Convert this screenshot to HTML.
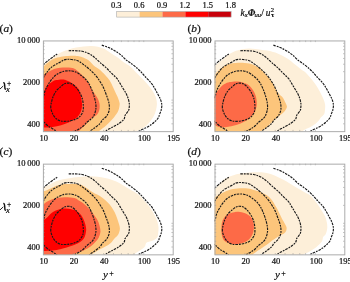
<!DOCTYPE html><html><head><meta charset="utf-8"><style>html,body{margin:0;padding:0;background:#fff;width:350px;height:282px;overflow:hidden}svg{display:block;will-change:transform}text{font-family:"Liberation Serif",serif;fill:#111;stroke:#111;stroke-width:0.22px}</style></head><body>
<svg width="350" height="282" viewBox="0 0 350 282">
<rect x="116.70" y="11.5" width="22.93" height="5.6" fill="#fdefd9"/>
<rect x="139.58" y="11.5" width="22.93" height="5.6" fill="#fcc57b"/>
<rect x="162.46" y="11.5" width="22.93" height="5.6" fill="#fd6a47"/>
<rect x="185.34" y="11.5" width="22.93" height="5.6" fill="#ff0000"/>
<rect x="208.22" y="11.5" width="22.93" height="5.6" fill="#c8000a"/>
<rect x="116.70" y="11.5" width="114.40" height="5.6" fill="none" stroke="#aaa" stroke-width="0.6"/>
<text x="116.20" y="7.6" font-size="8.5" text-anchor="middle">0.3</text>
<text x="139.08" y="7.6" font-size="8.5" text-anchor="middle">0.6</text>
<text x="161.96" y="7.6" font-size="8.5" text-anchor="middle">0.9</text>
<text x="184.84" y="7.6" font-size="8.5" text-anchor="middle">1.2</text>
<text x="207.72" y="7.6" font-size="8.5" text-anchor="middle">1.5</text>
<text x="230.60" y="7.6" font-size="8.5" text-anchor="middle">1.8</text>
<text x="240.5" y="16" font-size="9.5" font-style="italic" font-weight="normal">k</text>
<text x="244.8" y="17.3" font-size="6.6" font-style="italic" font-weight="normal">x</text>
<text x="247.7" y="16" font-size="9.5" font-style="italic" font-weight="bold">Φ</text>
<text x="254.5" y="17.3" font-size="6.6" font-style="italic" font-weight="normal">uu</text>
<text x="261.2" y="16" font-size="9.5" font-style="normal" font-weight="normal">/</text>
<text x="265.7" y="16" font-size="9.5" font-style="italic" font-weight="normal">u</text>
<text x="270.7" y="12.1" font-size="6.6" font-style="normal" font-weight="normal">2</text>
<text x="271.0" y="17.4" font-size="6.8" font-style="normal" font-weight="bold">τ</text>
<g transform="translate(43,40.5)">
<clipPath id="cpa"><rect x="0" y="0" width="130" height="91"/></clipPath>
<g clip-path="url(#cpa)">
<path d="M-2.00 26.50C-1.67 26.25 -1.00 25.92 0.00 25.00C1.00 24.08 2.33 22.42 4.00 21.00C5.67 19.58 8.33 17.63 10.00 16.50C11.67 15.37 12.50 15.02 14.00 14.20C15.50 13.38 16.95 12.50 19.00 11.60C21.05 10.70 23.97 9.57 26.30 8.80C28.63 8.03 30.62 7.48 33.00 7.00C35.38 6.52 38.10 6.17 40.60 5.90C43.10 5.63 45.60 5.33 48.00 5.40C50.40 5.47 52.83 5.82 55.00 6.30C57.17 6.78 59.25 7.52 61.00 8.30C62.75 9.08 63.88 9.97 65.50 11.00C67.12 12.03 68.88 13.30 70.70 14.50C72.52 15.70 74.68 16.95 76.40 18.20C78.12 19.45 79.28 20.78 81.00 22.00C82.72 23.22 84.80 23.97 86.70 25.50C88.60 27.03 90.23 29.03 92.40 31.20C94.57 33.37 97.30 35.95 99.70 38.50C102.10 41.05 104.73 43.73 106.80 46.50C108.87 49.27 110.92 52.18 112.10 55.10C113.28 58.02 114.03 60.75 113.90 64.00C113.77 67.25 112.78 71.35 111.30 74.60C109.82 77.85 107.22 81.13 105.00 83.50C102.78 85.87 100.07 87.55 98.00 88.80C95.93 90.05 93.77 90.30 92.60 91.00C91.43 91.70 91.27 92.67 91.00 93.00L91.00 96L-5 96L-5 26.50Z" fill="#fdefd9"/>
<path d="M-2.00 28.00C-1.67 27.75 -1.05 27.40 0.00 26.50C1.05 25.60 2.53 23.97 4.30 22.60C6.07 21.23 8.32 19.37 10.60 18.30C12.88 17.23 15.60 16.67 18.00 16.20C20.40 15.73 22.42 15.63 25.00 15.50C27.58 15.37 31.33 15.28 33.50 15.40C35.67 15.52 36.35 15.67 38.00 16.20C39.65 16.73 41.82 17.72 43.40 18.60C44.98 19.48 46.23 20.38 47.50 21.50C48.77 22.62 49.50 24.05 51.00 25.30C52.50 26.55 54.65 27.47 56.50 29.00C58.35 30.53 60.40 32.67 62.10 34.50C63.80 36.33 65.47 38.15 66.70 40.00C67.93 41.85 68.62 43.77 69.50 45.60C70.38 47.43 71.20 49.30 72.00 51.00C72.80 52.70 73.60 54.13 74.30 55.80C75.00 57.47 75.82 59.55 76.20 61.00C76.58 62.45 76.80 62.83 76.60 64.50C76.40 66.17 76.10 68.75 75.00 71.00C73.90 73.25 71.58 76.03 70.00 78.00C68.42 79.97 66.92 81.38 65.50 82.80C64.08 84.22 62.63 85.55 61.50 86.50C60.37 87.45 59.58 87.82 58.70 88.50C57.82 89.18 56.82 89.85 56.20 90.60C55.58 91.35 55.20 92.60 55.00 93.00L55.00 96L-5 96L-5 28.00Z" fill="#fcc57b"/>
<path d="M-2.00 35.50C-1.67 35.33 -1.17 35.13 0.00 34.50C1.17 33.87 3.17 32.68 5.00 31.70C6.83 30.72 9.00 29.33 11.00 28.60C13.00 27.87 15.00 27.57 17.00 27.30C19.00 27.03 21.17 27.00 23.00 27.00C24.83 27.00 26.48 27.03 28.00 27.30C29.52 27.57 30.27 27.40 32.10 28.60C33.93 29.80 37.13 32.73 39.00 34.50C40.87 36.27 42.13 37.82 43.30 39.20C44.47 40.58 45.13 41.25 46.00 42.80C46.87 44.35 47.58 46.80 48.50 48.50C49.42 50.20 50.50 51.50 51.50 53.00C52.50 54.50 53.67 55.80 54.50 57.50C55.33 59.20 56.18 61.30 56.50 63.20C56.82 65.10 56.73 67.18 56.40 68.90C56.07 70.62 55.32 72.32 54.50 73.50C53.68 74.68 52.42 75.33 51.50 76.00C50.58 76.67 49.83 76.87 49.00 77.50C48.17 78.13 47.30 79.00 46.50 79.80C45.70 80.60 45.23 81.23 44.20 82.30C43.17 83.37 41.58 84.92 40.30 86.20C39.02 87.48 37.30 88.87 36.50 90.00C35.70 91.13 35.67 92.50 35.50 93.00L35.50 96L-5 96L-5 35.50Z" fill="#fd6a47"/>
<path d="M-2.00 57.00C-1.67 56.67 -0.52 55.88 0.00 55.00C0.52 54.12 0.55 53.08 1.10 51.70C1.65 50.32 2.47 48.07 3.30 46.70C4.13 45.33 5.05 44.45 6.10 43.50C7.15 42.55 8.42 41.65 9.60 41.00C10.78 40.35 11.63 39.95 13.20 39.60C14.77 39.25 17.53 38.95 19.00 38.90C20.47 38.85 20.73 38.90 22.00 39.30C23.27 39.70 25.27 40.60 26.60 41.30C27.93 42.00 28.52 42.30 30.00 43.50C31.48 44.70 34.20 46.50 35.50 48.50C36.80 50.50 37.22 53.05 37.80 55.50C38.38 57.95 38.90 60.87 39.00 63.20C39.10 65.53 38.92 67.58 38.40 69.50C37.88 71.42 37.05 73.15 35.90 74.70C34.75 76.25 33.32 77.53 31.50 78.80C29.68 80.07 27.23 81.30 25.00 82.30C22.77 83.30 20.67 84.12 18.10 84.80C15.53 85.48 12.43 86.03 9.60 86.40C6.77 86.77 3.03 86.87 1.10 87.00C-0.83 87.13 -1.48 87.17 -2.00 87.20L-5 87.20L-5 57.00Z" fill="#ff0000"/>
<path d="M58.80 4.60C60.05 5.05 63.88 6.20 66.30 7.30C68.72 8.40 71.27 9.92 73.30 11.20C75.33 12.48 76.80 13.57 78.50 15.00C80.20 16.43 81.75 18.37 83.50 19.80C85.25 21.23 87.08 22.15 89.00 23.60C90.92 25.05 93.33 27.02 95.00 28.50C96.67 29.98 97.67 31.08 99.00 32.50C100.33 33.92 101.50 35.37 103.00 37.00C104.50 38.63 106.58 40.55 108.00 42.30C109.42 44.05 110.42 45.70 111.50 47.50C112.58 49.30 113.53 51.27 114.50 53.10C115.47 54.93 116.58 56.65 117.30 58.50C118.02 60.35 118.65 62.37 118.80 64.20C118.95 66.03 118.57 67.92 118.20 69.50C117.83 71.08 117.10 72.37 116.60 73.70C116.10 75.03 115.97 76.28 115.20 77.50C114.43 78.72 113.20 79.87 112.00 81.00C110.80 82.13 109.50 83.25 108.00 84.30C106.50 85.35 104.80 86.37 103.00 87.30C101.20 88.23 98.87 88.95 97.20 89.90C95.53 90.85 93.70 92.48 93.00 93.00" stroke="#1a1a1a" stroke-width="1.15" fill="none" stroke-dasharray="2.6 0.95 1.8 0.95"/>
<path d="M-2.00 26.50C-1.67 26.17 -1.08 25.50 0.00 24.50C1.08 23.50 2.68 21.95 4.50 20.50C6.32 19.05 9.28 16.95 10.90 15.80C12.52 14.65 13.65 13.97 14.20 13.60" stroke="#1a1a1a" stroke-width="1.15" fill="none" stroke-dasharray="2.6 0.95 1.8 0.95"/>
<path d="M25.70 10.20C26.75 10.20 29.75 10.10 32.00 10.20C34.25 10.30 37.12 10.42 39.20 10.80C41.28 11.18 42.85 11.80 44.50 12.50C46.15 13.20 47.68 14.05 49.10 15.00C50.52 15.95 51.60 16.97 53.00 18.20C54.40 19.43 55.83 20.92 57.50 22.40C59.17 23.88 61.17 25.38 63.00 27.10C64.83 28.82 66.65 30.85 68.50 32.70C70.35 34.55 72.77 36.65 74.10 38.20C75.43 39.75 75.55 40.45 76.50 42.00C77.45 43.55 78.75 45.75 79.80 47.50C80.85 49.25 81.93 50.83 82.80 52.50C83.67 54.17 84.42 55.75 85.00 57.50C85.58 59.25 86.10 61.42 86.30 63.00C86.50 64.58 86.33 65.83 86.20 67.00C86.07 68.17 86.20 68.67 85.50 70.00C84.80 71.33 82.73 73.58 82.00 75.00C81.27 76.42 82.05 77.20 81.10 78.50C80.15 79.80 78.28 81.42 76.30 82.80C74.32 84.18 71.40 85.57 69.20 86.80C67.00 88.03 64.47 89.17 63.10 90.20C61.73 91.23 61.35 92.53 61.00 93.00" stroke="#1a1a1a" stroke-width="1.15" fill="none" stroke-dasharray="2.6 0.95 1.8 0.95"/>
<path d="M-2.00 40.00C-1.67 39.60 -0.52 38.27 0.00 37.60C0.52 36.93 0.60 36.77 1.10 36.00C1.60 35.23 2.30 34.00 3.00 33.00C3.70 32.00 4.55 30.90 5.30 30.00C6.05 29.10 6.67 28.37 7.50 27.60C8.33 26.83 9.30 26.07 10.30 25.40C11.30 24.73 12.38 24.20 13.50 23.60C14.62 23.00 15.75 22.50 17.00 21.80C18.25 21.10 19.65 19.90 21.00 19.40C22.35 18.90 23.82 18.87 25.10 18.80C26.38 18.73 27.50 18.88 28.70 19.00C29.90 19.12 31.10 19.20 32.30 19.50C33.50 19.80 34.68 20.15 35.90 20.80C37.12 21.45 38.48 22.60 39.60 23.40C40.72 24.20 41.27 24.53 42.60 25.60C43.93 26.67 45.92 28.23 47.60 29.80C49.28 31.37 51.13 33.13 52.70 35.00C54.27 36.87 55.72 39.02 57.00 41.00C58.28 42.98 59.40 44.82 60.40 46.90C61.40 48.98 62.18 51.32 63.00 53.50C63.82 55.68 64.75 58.08 65.30 60.00C65.85 61.92 66.18 63.25 66.30 65.00C66.42 66.75 66.48 68.70 66.00 70.50C65.52 72.30 64.52 74.28 63.40 75.80C62.28 77.32 60.38 78.37 59.30 79.60C58.22 80.83 58.20 81.88 56.90 83.20C55.60 84.52 53.07 86.33 51.50 87.50C49.93 88.67 48.58 89.28 47.50 90.20C46.42 91.12 45.42 92.53 45.00 93.00" stroke="#1a1a1a" stroke-width="1.15" fill="none" stroke-dasharray="2.6 0.95 1.8 0.95"/>
<path d="M-1.00 58.00C-0.70 57.53 0.38 56.25 0.80 55.20C1.22 54.15 1.08 53.00 1.50 51.70C1.92 50.40 2.53 48.93 3.30 47.40C4.07 45.87 5.05 44.10 6.10 42.50C7.15 40.90 8.48 39.13 9.60 37.80C10.72 36.47 11.57 35.43 12.80 34.50C14.03 33.57 15.63 32.83 17.00 32.20C18.37 31.57 19.67 31.02 21.00 30.70C22.33 30.38 23.67 30.33 25.00 30.30C26.33 30.27 27.83 30.33 29.00 30.50C30.17 30.67 30.92 30.88 32.00 31.30C33.08 31.72 34.33 32.28 35.50 33.00C36.67 33.72 37.85 34.68 39.00 35.60C40.15 36.52 41.32 37.35 42.40 38.50C43.48 39.65 44.57 41.00 45.50 42.50C46.43 44.00 47.17 45.58 48.00 47.50C48.83 49.42 49.73 51.58 50.50 54.00C51.27 56.42 52.22 59.50 52.60 62.00C52.98 64.50 53.15 66.70 52.80 69.00C52.45 71.30 51.38 74.13 50.50 75.80C49.62 77.47 48.55 78.05 47.50 79.00C46.45 79.95 45.40 80.42 44.20 81.50C43.00 82.58 41.67 84.33 40.30 85.50C38.93 86.67 37.27 87.70 36.00 88.50C34.73 89.30 33.87 89.55 32.70 90.30C31.53 91.05 29.62 92.55 29.00 93.00" stroke="#1a1a1a" stroke-width="1.15" fill="none" stroke-dasharray="2.6 0.95 1.8 0.95"/>
<path d="M-2.00 79.80C-1.67 80.00 -0.52 80.67 0.00 81.00C0.52 81.33 0.30 81.08 1.10 81.80C1.90 82.52 3.47 84.28 4.80 85.30C6.13 86.32 7.72 87.02 9.10 87.90C10.48 88.78 12.12 89.75 13.10 90.60C14.08 91.45 14.68 92.60 15.00 93.00" stroke="#1a1a1a" stroke-width="1.15" fill="none" stroke-dasharray="2.6 0.95 1.8 0.95"/>
<path d="M7.80 67.40C7.60 65.63 7.90 64.30 8.30 62.40C8.70 60.50 9.35 58.03 10.20 56.00C11.05 53.97 12.10 51.88 13.40 50.20C14.70 48.52 16.65 47.05 18.00 45.90C19.35 44.75 20.33 43.85 21.50 43.30C22.67 42.75 23.75 42.57 25.00 42.60C26.25 42.63 27.58 42.68 29.00 43.50C30.42 44.32 32.08 45.83 33.50 47.50C34.92 49.17 36.50 51.58 37.50 53.50C38.50 55.42 39.03 57.08 39.50 59.00C39.97 60.92 40.22 63.08 40.30 65.00C40.38 66.92 40.38 68.92 40.00 70.50C39.62 72.08 38.83 73.33 38.00 74.50C37.17 75.67 36.33 76.63 35.00 77.50C33.67 78.37 32.00 79.15 30.00 79.70C28.00 80.25 25.17 80.70 23.00 80.80C20.83 80.90 18.75 80.85 17.00 80.30C15.25 79.75 13.75 78.72 12.50 77.50C11.25 76.28 10.28 74.68 9.50 73.00C8.72 71.32 8.00 69.17 7.80 67.40Z" stroke="#1a1a1a" stroke-width="1.15" fill="none" stroke-dasharray="2.6 0.95 1.8 0.95"/>
</g>
<path d="M30.34 0v1.6M30.34 91v-1.6M48.08 0v1.6M48.08 91v-1.6M60.67 0v1.6M60.67 91v-1.6M70.44 0v1.6M70.44 91v-1.6M78.42 0v1.6M78.42 91v-1.6M85.16 0v1.6M85.16 91v-1.6M91.01 0v1.6M91.01 91v-1.6M96.16 0v1.6M96.16 91v-1.6M100.77 0v1.6M100.77 91v-1.6M0 83.32h1.6M130 83.32h-1.6M0 77.54h1.6M130 77.54h-1.6M0 72.82h1.6M130 72.82h-1.6M0 68.83h1.6M130 68.83h-1.6M0 65.38h1.6M130 65.38h-1.6M0 62.33h1.6M130 62.33h-1.6M0 59.60h1.6M130 59.60h-1.6M0 41.66h1.6M130 41.66h-1.6M0 31.16h1.6M130 31.16h-1.6M0 23.72h1.6M130 23.72h-1.6M0 17.94h1.6M130 17.94h-1.6M0 13.22h1.6M130 13.22h-1.6M0 9.23h1.6M130 9.23h-1.6M0 5.78h1.6M130 5.78h-1.6M0 2.73h1.6M130 2.73h-1.6" stroke="#888" stroke-width="0.5" fill="none"/>
<rect x="0.4" y="0.45" width="129.8" height="90.7" fill="none" stroke="#ababab" stroke-width="1"/>
<text x="-3" y="2.70" font-size="8.5" text-anchor="end">10&#8201;000</text>
<text x="-3" y="44.36" font-size="8.5" text-anchor="end">2000</text>
<text x="-3" y="86.02" font-size="8.5" text-anchor="end">400</text>
<text x="0.70" y="100.60" font-size="8.5" text-anchor="middle">10</text>
<text x="31.04" y="100.60" font-size="8.5" text-anchor="middle">20</text>
<text x="61.37" y="100.60" font-size="8.5" text-anchor="middle">40</text>
<text x="101.47" y="100.60" font-size="8.5" text-anchor="middle">100</text>
<text x="130.70" y="100.60" font-size="8.5" text-anchor="middle">195</text>
</g>
<g transform="translate(214.6,40.5)">
<clipPath id="cpb"><rect x="0" y="0" width="130" height="91"/></clipPath>
<g clip-path="url(#cpb)">
<path d="M-2.00 27.00C-1.67 26.75 -1.33 26.58 0.00 25.50C1.33 24.42 3.88 22.25 6.00 20.50C8.12 18.75 10.43 16.58 12.70 15.00C14.97 13.42 17.12 12.03 19.60 11.00C22.08 9.97 25.08 9.30 27.60 8.80C30.12 8.30 32.47 8.03 34.70 8.00C36.93 7.97 38.78 8.37 41.00 8.60C43.22 8.83 45.80 9.12 48.00 9.40C50.20 9.68 51.70 9.70 54.20 10.30C56.70 10.90 60.05 11.80 63.00 13.00C65.95 14.20 68.93 15.63 71.90 17.50C74.87 19.37 78.45 22.37 80.80 24.20C83.15 26.03 84.30 27.20 86.00 28.50C87.70 29.80 89.42 30.58 91.00 32.00C92.58 33.42 94.05 35.28 95.50 37.00C96.95 38.72 98.37 40.47 99.70 42.30C101.03 44.13 102.42 46.20 103.50 48.00C104.58 49.80 105.32 51.35 106.20 53.10C107.08 54.85 108.08 56.68 108.80 58.50C109.52 60.32 110.25 62.08 110.50 64.00C110.75 65.92 110.47 68.38 110.30 70.00C110.13 71.62 110.18 72.53 109.50 73.70C108.82 74.87 107.12 75.92 106.20 77.00C105.28 78.08 105.43 78.77 104.00 80.20C102.57 81.63 100.12 83.98 97.60 85.60C95.08 87.22 90.83 88.67 88.90 89.90C86.97 91.13 86.48 92.48 86.00 93.00L86.00 96L-5 96L-5 27.00Z" fill="#fdefd9"/>
<path d="M-2.00 37.00C-1.67 36.67 -0.83 36.00 0.00 35.00C0.83 34.00 1.73 32.33 3.00 31.00C4.27 29.67 5.88 28.20 7.60 27.00C9.32 25.80 10.68 24.58 13.30 23.80C15.92 23.02 19.73 22.43 23.30 22.30C26.87 22.17 31.67 22.42 34.70 23.00C37.73 23.58 39.53 24.80 41.50 25.80C43.47 26.80 44.98 27.72 46.50 29.00C48.02 30.28 49.18 32.00 50.60 33.50C52.02 35.00 53.68 36.42 55.00 38.00C56.32 39.58 57.45 41.17 58.50 43.00C59.55 44.83 60.30 47.25 61.30 49.00C62.30 50.75 63.37 52.17 64.50 53.50C65.63 54.83 67.02 55.50 68.10 57.00C69.18 58.50 70.30 60.90 71.00 62.50C71.70 64.10 72.50 65.20 72.30 66.60C72.10 68.00 71.22 69.33 69.80 70.90C68.38 72.47 65.93 74.17 63.80 76.00C61.67 77.83 58.98 80.07 57.00 81.90C55.02 83.73 53.60 85.58 51.90 87.00C50.20 88.42 47.95 89.40 46.80 90.40C45.65 91.40 45.30 92.57 45.00 93.00L45.00 96L-5 96L-5 37.00Z" fill="#fcc57b"/>
<path d="M23.30 41.00C20.43 40.67 17.42 41.18 15.20 41.60C12.98 42.02 11.35 42.83 10.00 43.50C8.65 44.17 8.02 44.77 7.10 45.60C6.18 46.43 5.27 47.60 4.50 48.50C3.73 49.40 3.25 50.08 2.50 51.00C1.75 51.92 0.67 53.00 0.00 54.00C-0.67 55.00 -1.25 52.33 -1.50 57.00C-1.75 61.67 -1.75 77.42 -1.50 82.00C-1.25 86.58 -0.97 83.77 0.00 84.50C0.97 85.23 2.70 86.02 4.30 86.40C5.90 86.78 7.82 86.85 9.60 86.80C11.38 86.75 12.87 86.52 15.00 86.10C17.13 85.68 20.07 85.05 22.40 84.30C24.73 83.55 27.00 82.65 29.00 81.60C31.00 80.55 32.65 79.52 34.40 78.00C36.15 76.48 38.22 74.68 39.50 72.50C40.78 70.32 41.77 67.52 42.10 64.90C42.43 62.28 42.10 59.33 41.50 56.80C40.90 54.27 40.02 51.90 38.50 49.70C36.98 47.50 34.93 45.05 32.40 43.60C29.87 42.15 26.17 41.33 23.30 41.00Z" fill="#fd6a47"/>
<path d="M58.80 4.60C60.05 5.05 63.88 6.20 66.30 7.30C68.72 8.40 71.27 9.92 73.30 11.20C75.33 12.48 76.80 13.57 78.50 15.00C80.20 16.43 81.75 18.37 83.50 19.80C85.25 21.23 87.08 22.15 89.00 23.60C90.92 25.05 93.33 27.02 95.00 28.50C96.67 29.98 97.67 31.08 99.00 32.50C100.33 33.92 101.50 35.37 103.00 37.00C104.50 38.63 106.58 40.55 108.00 42.30C109.42 44.05 110.42 45.70 111.50 47.50C112.58 49.30 113.53 51.27 114.50 53.10C115.47 54.93 116.58 56.65 117.30 58.50C118.02 60.35 118.65 62.37 118.80 64.20C118.95 66.03 118.57 67.92 118.20 69.50C117.83 71.08 117.10 72.37 116.60 73.70C116.10 75.03 115.97 76.28 115.20 77.50C114.43 78.72 113.20 79.87 112.00 81.00C110.80 82.13 109.50 83.25 108.00 84.30C106.50 85.35 104.80 86.37 103.00 87.30C101.20 88.23 98.87 88.95 97.20 89.90C95.53 90.85 93.70 92.48 93.00 93.00" stroke="#1a1a1a" stroke-width="1.15" fill="none" stroke-dasharray="2.6 0.95 1.8 0.95"/>
<path d="M-2.00 26.50C-1.67 26.17 -1.08 25.50 0.00 24.50C1.08 23.50 2.68 21.95 4.50 20.50C6.32 19.05 9.28 16.95 10.90 15.80C12.52 14.65 13.65 13.97 14.20 13.60" stroke="#1a1a1a" stroke-width="1.15" fill="none" stroke-dasharray="2.6 0.95 1.8 0.95"/>
<path d="M25.70 10.20C26.75 10.20 29.75 10.10 32.00 10.20C34.25 10.30 37.12 10.42 39.20 10.80C41.28 11.18 42.85 11.80 44.50 12.50C46.15 13.20 47.68 14.05 49.10 15.00C50.52 15.95 51.60 16.97 53.00 18.20C54.40 19.43 55.83 20.92 57.50 22.40C59.17 23.88 61.17 25.38 63.00 27.10C64.83 28.82 66.65 30.85 68.50 32.70C70.35 34.55 72.77 36.65 74.10 38.20C75.43 39.75 75.55 40.45 76.50 42.00C77.45 43.55 78.75 45.75 79.80 47.50C80.85 49.25 81.93 50.83 82.80 52.50C83.67 54.17 84.42 55.75 85.00 57.50C85.58 59.25 86.10 61.42 86.30 63.00C86.50 64.58 86.33 65.83 86.20 67.00C86.07 68.17 86.20 68.67 85.50 70.00C84.80 71.33 82.73 73.58 82.00 75.00C81.27 76.42 82.05 77.20 81.10 78.50C80.15 79.80 78.28 81.42 76.30 82.80C74.32 84.18 71.40 85.57 69.20 86.80C67.00 88.03 64.47 89.17 63.10 90.20C61.73 91.23 61.35 92.53 61.00 93.00" stroke="#1a1a1a" stroke-width="1.15" fill="none" stroke-dasharray="2.6 0.95 1.8 0.95"/>
<path d="M-2.00 40.00C-1.67 39.60 -0.52 38.27 0.00 37.60C0.52 36.93 0.60 36.77 1.10 36.00C1.60 35.23 2.30 34.00 3.00 33.00C3.70 32.00 4.55 30.90 5.30 30.00C6.05 29.10 6.67 28.37 7.50 27.60C8.33 26.83 9.30 26.07 10.30 25.40C11.30 24.73 12.38 24.20 13.50 23.60C14.62 23.00 15.75 22.50 17.00 21.80C18.25 21.10 19.65 19.90 21.00 19.40C22.35 18.90 23.82 18.87 25.10 18.80C26.38 18.73 27.50 18.88 28.70 19.00C29.90 19.12 31.10 19.20 32.30 19.50C33.50 19.80 34.68 20.15 35.90 20.80C37.12 21.45 38.48 22.60 39.60 23.40C40.72 24.20 41.27 24.53 42.60 25.60C43.93 26.67 45.92 28.23 47.60 29.80C49.28 31.37 51.13 33.13 52.70 35.00C54.27 36.87 55.72 39.02 57.00 41.00C58.28 42.98 59.40 44.82 60.40 46.90C61.40 48.98 62.18 51.32 63.00 53.50C63.82 55.68 64.75 58.08 65.30 60.00C65.85 61.92 66.18 63.25 66.30 65.00C66.42 66.75 66.48 68.70 66.00 70.50C65.52 72.30 64.52 74.28 63.40 75.80C62.28 77.32 60.38 78.37 59.30 79.60C58.22 80.83 58.20 81.88 56.90 83.20C55.60 84.52 53.07 86.33 51.50 87.50C49.93 88.67 48.58 89.28 47.50 90.20C46.42 91.12 45.42 92.53 45.00 93.00" stroke="#1a1a1a" stroke-width="1.15" fill="none" stroke-dasharray="2.6 0.95 1.8 0.95"/>
<path d="M-1.00 58.00C-0.70 57.53 0.38 56.25 0.80 55.20C1.22 54.15 1.08 53.00 1.50 51.70C1.92 50.40 2.53 48.93 3.30 47.40C4.07 45.87 5.05 44.10 6.10 42.50C7.15 40.90 8.48 39.13 9.60 37.80C10.72 36.47 11.57 35.43 12.80 34.50C14.03 33.57 15.63 32.83 17.00 32.20C18.37 31.57 19.67 31.02 21.00 30.70C22.33 30.38 23.67 30.33 25.00 30.30C26.33 30.27 27.83 30.33 29.00 30.50C30.17 30.67 30.92 30.88 32.00 31.30C33.08 31.72 34.33 32.28 35.50 33.00C36.67 33.72 37.85 34.68 39.00 35.60C40.15 36.52 41.32 37.35 42.40 38.50C43.48 39.65 44.57 41.00 45.50 42.50C46.43 44.00 47.17 45.58 48.00 47.50C48.83 49.42 49.73 51.58 50.50 54.00C51.27 56.42 52.22 59.50 52.60 62.00C52.98 64.50 53.15 66.70 52.80 69.00C52.45 71.30 51.38 74.13 50.50 75.80C49.62 77.47 48.55 78.05 47.50 79.00C46.45 79.95 45.40 80.42 44.20 81.50C43.00 82.58 41.67 84.33 40.30 85.50C38.93 86.67 37.27 87.70 36.00 88.50C34.73 89.30 33.87 89.55 32.70 90.30C31.53 91.05 29.62 92.55 29.00 93.00" stroke="#1a1a1a" stroke-width="1.15" fill="none" stroke-dasharray="2.6 0.95 1.8 0.95"/>
<path d="M-2.00 79.80C-1.67 80.00 -0.52 80.67 0.00 81.00C0.52 81.33 0.30 81.08 1.10 81.80C1.90 82.52 3.47 84.28 4.80 85.30C6.13 86.32 7.72 87.02 9.10 87.90C10.48 88.78 12.12 89.75 13.10 90.60C14.08 91.45 14.68 92.60 15.00 93.00" stroke="#1a1a1a" stroke-width="1.15" fill="none" stroke-dasharray="2.6 0.95 1.8 0.95"/>
<path d="M7.80 67.40C7.60 65.63 7.90 64.30 8.30 62.40C8.70 60.50 9.35 58.03 10.20 56.00C11.05 53.97 12.10 51.88 13.40 50.20C14.70 48.52 16.65 47.05 18.00 45.90C19.35 44.75 20.33 43.85 21.50 43.30C22.67 42.75 23.75 42.57 25.00 42.60C26.25 42.63 27.58 42.68 29.00 43.50C30.42 44.32 32.08 45.83 33.50 47.50C34.92 49.17 36.50 51.58 37.50 53.50C38.50 55.42 39.03 57.08 39.50 59.00C39.97 60.92 40.22 63.08 40.30 65.00C40.38 66.92 40.38 68.92 40.00 70.50C39.62 72.08 38.83 73.33 38.00 74.50C37.17 75.67 36.33 76.63 35.00 77.50C33.67 78.37 32.00 79.15 30.00 79.70C28.00 80.25 25.17 80.70 23.00 80.80C20.83 80.90 18.75 80.85 17.00 80.30C15.25 79.75 13.75 78.72 12.50 77.50C11.25 76.28 10.28 74.68 9.50 73.00C8.72 71.32 8.00 69.17 7.80 67.40Z" stroke="#1a1a1a" stroke-width="1.15" fill="none" stroke-dasharray="2.6 0.95 1.8 0.95"/>
</g>
<path d="M30.34 0v1.6M30.34 91v-1.6M48.08 0v1.6M48.08 91v-1.6M60.67 0v1.6M60.67 91v-1.6M70.44 0v1.6M70.44 91v-1.6M78.42 0v1.6M78.42 91v-1.6M85.16 0v1.6M85.16 91v-1.6M91.01 0v1.6M91.01 91v-1.6M96.16 0v1.6M96.16 91v-1.6M100.77 0v1.6M100.77 91v-1.6M0 83.32h1.6M130 83.32h-1.6M0 77.54h1.6M130 77.54h-1.6M0 72.82h1.6M130 72.82h-1.6M0 68.83h1.6M130 68.83h-1.6M0 65.38h1.6M130 65.38h-1.6M0 62.33h1.6M130 62.33h-1.6M0 59.60h1.6M130 59.60h-1.6M0 41.66h1.6M130 41.66h-1.6M0 31.16h1.6M130 31.16h-1.6M0 23.72h1.6M130 23.72h-1.6M0 17.94h1.6M130 17.94h-1.6M0 13.22h1.6M130 13.22h-1.6M0 9.23h1.6M130 9.23h-1.6M0 5.78h1.6M130 5.78h-1.6M0 2.73h1.6M130 2.73h-1.6" stroke="#888" stroke-width="0.5" fill="none"/>
<rect x="0.4" y="0.45" width="129.8" height="90.7" fill="none" stroke="#ababab" stroke-width="1"/>
<text x="-3" y="2.70" font-size="8.5" text-anchor="end">10&#8201;000</text>
<text x="-3" y="44.36" font-size="8.5" text-anchor="end">2000</text>
<text x="-3" y="86.02" font-size="8.5" text-anchor="end">400</text>
<text x="0.70" y="100.60" font-size="8.5" text-anchor="middle">10</text>
<text x="31.04" y="100.60" font-size="8.5" text-anchor="middle">20</text>
<text x="61.37" y="100.60" font-size="8.5" text-anchor="middle">40</text>
<text x="101.47" y="100.60" font-size="8.5" text-anchor="middle">100</text>
<text x="130.70" y="100.60" font-size="8.5" text-anchor="middle">195</text>
</g>
<g transform="translate(43,163.7)">
<clipPath id="cpc"><rect x="0" y="0" width="130" height="91"/></clipPath>
<g clip-path="url(#cpc)">
<path d="M-2.00 25.50C-1.67 25.25 -1.00 24.58 0.00 24.00C1.00 23.42 2.67 22.67 4.00 22.00C5.33 21.33 6.93 20.55 8.00 20.00C9.07 19.45 9.07 19.28 10.40 18.70C11.73 18.12 14.08 17.07 16.00 16.50C17.92 15.93 19.90 15.68 21.90 15.30C23.90 14.92 26.10 14.48 28.00 14.20C29.90 13.92 31.47 13.80 33.30 13.60C35.13 13.40 36.95 13.18 39.00 13.00C41.05 12.82 43.55 12.53 45.60 12.50C47.65 12.47 49.17 12.63 51.30 12.80C53.43 12.97 56.02 13.13 58.40 13.50C60.78 13.87 63.22 14.32 65.60 15.00C67.98 15.68 70.32 16.52 72.70 17.60C75.08 18.68 77.52 20.13 79.90 21.50C82.28 22.87 84.98 24.63 87.00 25.80C89.02 26.97 90.48 27.55 92.00 28.50C93.52 29.45 94.60 30.17 96.10 31.50C97.60 32.83 99.38 34.73 101.00 36.50C102.62 38.27 104.38 40.27 105.80 42.10C107.22 43.93 108.42 45.70 109.50 47.50C110.58 49.30 111.47 51.07 112.30 52.90C113.13 54.73 113.97 56.68 114.50 58.50C115.03 60.32 115.38 62.05 115.50 63.80C115.62 65.55 115.40 67.38 115.20 69.00C115.00 70.62 115.15 72.20 114.30 73.50C113.45 74.80 111.88 75.90 110.10 76.80C108.32 77.70 105.03 77.83 103.60 78.90C102.17 79.97 102.93 81.68 101.50 83.20C100.07 84.72 96.80 86.73 95.00 88.00C93.20 89.27 91.70 89.97 90.70 90.80C89.70 91.63 89.28 92.63 89.00 93.00L89.00 96L-5 96L-5 25.50Z" fill="#fdefd9"/>
<path d="M-2.00 29.00C-1.67 28.75 -0.88 27.88 0.00 27.50C0.88 27.12 2.05 27.13 3.30 26.70C4.55 26.27 6.08 25.55 7.50 24.90C8.92 24.25 10.38 23.38 11.80 22.80C13.22 22.22 14.80 21.75 16.00 21.40C17.20 21.05 18.00 20.87 19.00 20.70C20.00 20.53 20.17 20.47 22.00 20.40C23.83 20.33 27.50 20.22 30.00 20.30C32.50 20.38 34.88 20.32 37.00 20.90C39.12 21.48 41.03 22.83 42.70 23.80C44.37 24.77 45.62 25.80 47.00 26.70C48.38 27.60 49.42 28.32 51.00 29.20C52.58 30.08 54.65 30.83 56.50 32.00C58.35 33.17 60.40 34.73 62.10 36.20C63.80 37.67 65.32 39.12 66.70 40.80C68.08 42.48 69.35 44.52 70.40 46.30C71.45 48.08 72.22 49.62 73.00 51.50C73.78 53.38 74.45 55.38 75.10 57.60C75.75 59.82 76.90 62.55 76.90 64.80C76.90 67.05 76.00 69.43 75.10 71.10C74.20 72.77 72.72 73.43 71.50 74.80C70.28 76.17 69.32 77.95 67.80 79.30C66.28 80.65 64.20 81.85 62.40 82.90C60.60 83.95 58.73 84.67 57.00 85.60C55.27 86.53 53.50 87.60 52.00 88.50C50.50 89.40 49.00 90.25 48.00 91.00C47.00 91.75 46.33 92.67 46.00 93.00L46.00 96L-5 96L-5 29.00Z" fill="#fcc57b"/>
<path d="M-2.00 42.50C-1.67 42.25 -1.05 41.78 0.00 41.00C1.05 40.22 2.40 38.80 4.30 37.80C6.20 36.80 8.55 35.70 11.40 35.00C14.25 34.30 18.07 33.70 21.40 33.60C24.73 33.50 29.13 33.95 31.40 34.40C33.67 34.85 33.68 35.57 35.00 36.30C36.32 37.03 37.88 37.78 39.30 38.80C40.72 39.82 42.20 41.13 43.50 42.40C44.80 43.67 45.93 45.05 47.10 46.40C48.27 47.75 49.23 48.78 50.50 50.50C51.77 52.22 53.65 54.60 54.70 56.70C55.75 58.80 56.35 61.15 56.80 63.10C57.25 65.05 57.57 66.63 57.40 68.40C57.23 70.17 56.60 72.10 55.80 73.70C55.00 75.30 53.92 76.53 52.60 78.00C51.28 79.47 49.83 81.08 47.90 82.50C45.97 83.92 43.15 85.43 41.00 86.50C38.85 87.57 36.83 88.15 35.00 88.90C33.17 89.65 31.17 90.32 30.00 91.00C28.83 91.68 28.33 92.67 28.00 93.00L28.00 96L-5 96L-5 42.50Z" fill="#fd6a47"/>
<path d="M-2.00 58.00C-1.67 57.75 -0.82 57.02 0.00 56.50C0.82 55.98 1.47 56.12 2.90 54.90C4.33 53.68 6.70 50.63 8.60 49.20C10.50 47.77 12.17 47.02 14.30 46.30C16.43 45.58 19.02 45.02 21.40 44.90C23.78 44.78 26.45 45.13 28.60 45.60C30.75 46.07 32.63 46.63 34.30 47.70C35.97 48.77 37.42 50.33 38.60 52.00C39.78 53.67 40.68 55.87 41.40 57.70C42.12 59.53 42.63 61.28 42.90 63.00C43.17 64.72 43.32 66.08 43.00 68.00C42.68 69.92 42.17 72.67 41.00 74.50C39.83 76.33 38.00 77.75 36.00 79.00C34.00 80.25 31.98 80.97 29.00 82.00C26.02 83.03 21.33 84.40 18.10 85.20C14.87 86.00 12.43 86.45 9.60 86.80C6.77 87.15 3.03 87.18 1.10 87.30C-0.83 87.42 -1.48 87.47 -2.00 87.50L-5 87.50L-5 58.00Z" fill="#ff0000"/>
<path d="M58.80 4.60C60.05 5.05 63.88 6.20 66.30 7.30C68.72 8.40 71.27 9.92 73.30 11.20C75.33 12.48 76.80 13.57 78.50 15.00C80.20 16.43 81.75 18.37 83.50 19.80C85.25 21.23 87.08 22.15 89.00 23.60C90.92 25.05 93.33 27.02 95.00 28.50C96.67 29.98 97.67 31.08 99.00 32.50C100.33 33.92 101.50 35.37 103.00 37.00C104.50 38.63 106.58 40.55 108.00 42.30C109.42 44.05 110.42 45.70 111.50 47.50C112.58 49.30 113.53 51.27 114.50 53.10C115.47 54.93 116.58 56.65 117.30 58.50C118.02 60.35 118.65 62.37 118.80 64.20C118.95 66.03 118.57 67.92 118.20 69.50C117.83 71.08 117.10 72.37 116.60 73.70C116.10 75.03 115.97 76.28 115.20 77.50C114.43 78.72 113.20 79.87 112.00 81.00C110.80 82.13 109.50 83.25 108.00 84.30C106.50 85.35 104.80 86.37 103.00 87.30C101.20 88.23 98.87 88.95 97.20 89.90C95.53 90.85 93.70 92.48 93.00 93.00" stroke="#1a1a1a" stroke-width="1.15" fill="none" stroke-dasharray="2.6 0.95 1.8 0.95"/>
<path d="M-2.00 26.50C-1.67 26.17 -1.08 25.50 0.00 24.50C1.08 23.50 2.68 21.95 4.50 20.50C6.32 19.05 9.28 16.95 10.90 15.80C12.52 14.65 13.65 13.97 14.20 13.60" stroke="#1a1a1a" stroke-width="1.15" fill="none" stroke-dasharray="2.6 0.95 1.8 0.95"/>
<path d="M25.70 10.20C26.75 10.20 29.75 10.10 32.00 10.20C34.25 10.30 37.12 10.42 39.20 10.80C41.28 11.18 42.85 11.80 44.50 12.50C46.15 13.20 47.68 14.05 49.10 15.00C50.52 15.95 51.60 16.97 53.00 18.20C54.40 19.43 55.83 20.92 57.50 22.40C59.17 23.88 61.17 25.38 63.00 27.10C64.83 28.82 66.65 30.85 68.50 32.70C70.35 34.55 72.77 36.65 74.10 38.20C75.43 39.75 75.55 40.45 76.50 42.00C77.45 43.55 78.75 45.75 79.80 47.50C80.85 49.25 81.93 50.83 82.80 52.50C83.67 54.17 84.42 55.75 85.00 57.50C85.58 59.25 86.10 61.42 86.30 63.00C86.50 64.58 86.33 65.83 86.20 67.00C86.07 68.17 86.20 68.67 85.50 70.00C84.80 71.33 82.73 73.58 82.00 75.00C81.27 76.42 82.05 77.20 81.10 78.50C80.15 79.80 78.28 81.42 76.30 82.80C74.32 84.18 71.40 85.57 69.20 86.80C67.00 88.03 64.47 89.17 63.10 90.20C61.73 91.23 61.35 92.53 61.00 93.00" stroke="#1a1a1a" stroke-width="1.15" fill="none" stroke-dasharray="2.6 0.95 1.8 0.95"/>
<path d="M-2.00 40.00C-1.67 39.60 -0.52 38.27 0.00 37.60C0.52 36.93 0.60 36.77 1.10 36.00C1.60 35.23 2.30 34.00 3.00 33.00C3.70 32.00 4.55 30.90 5.30 30.00C6.05 29.10 6.67 28.37 7.50 27.60C8.33 26.83 9.30 26.07 10.30 25.40C11.30 24.73 12.38 24.20 13.50 23.60C14.62 23.00 15.75 22.50 17.00 21.80C18.25 21.10 19.65 19.90 21.00 19.40C22.35 18.90 23.82 18.87 25.10 18.80C26.38 18.73 27.50 18.88 28.70 19.00C29.90 19.12 31.10 19.20 32.30 19.50C33.50 19.80 34.68 20.15 35.90 20.80C37.12 21.45 38.48 22.60 39.60 23.40C40.72 24.20 41.27 24.53 42.60 25.60C43.93 26.67 45.92 28.23 47.60 29.80C49.28 31.37 51.13 33.13 52.70 35.00C54.27 36.87 55.72 39.02 57.00 41.00C58.28 42.98 59.40 44.82 60.40 46.90C61.40 48.98 62.18 51.32 63.00 53.50C63.82 55.68 64.75 58.08 65.30 60.00C65.85 61.92 66.18 63.25 66.30 65.00C66.42 66.75 66.48 68.70 66.00 70.50C65.52 72.30 64.52 74.28 63.40 75.80C62.28 77.32 60.38 78.37 59.30 79.60C58.22 80.83 58.20 81.88 56.90 83.20C55.60 84.52 53.07 86.33 51.50 87.50C49.93 88.67 48.58 89.28 47.50 90.20C46.42 91.12 45.42 92.53 45.00 93.00" stroke="#1a1a1a" stroke-width="1.15" fill="none" stroke-dasharray="2.6 0.95 1.8 0.95"/>
<path d="M-1.00 58.00C-0.70 57.53 0.38 56.25 0.80 55.20C1.22 54.15 1.08 53.00 1.50 51.70C1.92 50.40 2.53 48.93 3.30 47.40C4.07 45.87 5.05 44.10 6.10 42.50C7.15 40.90 8.48 39.13 9.60 37.80C10.72 36.47 11.57 35.43 12.80 34.50C14.03 33.57 15.63 32.83 17.00 32.20C18.37 31.57 19.67 31.02 21.00 30.70C22.33 30.38 23.67 30.33 25.00 30.30C26.33 30.27 27.83 30.33 29.00 30.50C30.17 30.67 30.92 30.88 32.00 31.30C33.08 31.72 34.33 32.28 35.50 33.00C36.67 33.72 37.85 34.68 39.00 35.60C40.15 36.52 41.32 37.35 42.40 38.50C43.48 39.65 44.57 41.00 45.50 42.50C46.43 44.00 47.17 45.58 48.00 47.50C48.83 49.42 49.73 51.58 50.50 54.00C51.27 56.42 52.22 59.50 52.60 62.00C52.98 64.50 53.15 66.70 52.80 69.00C52.45 71.30 51.38 74.13 50.50 75.80C49.62 77.47 48.55 78.05 47.50 79.00C46.45 79.95 45.40 80.42 44.20 81.50C43.00 82.58 41.67 84.33 40.30 85.50C38.93 86.67 37.27 87.70 36.00 88.50C34.73 89.30 33.87 89.55 32.70 90.30C31.53 91.05 29.62 92.55 29.00 93.00" stroke="#1a1a1a" stroke-width="1.15" fill="none" stroke-dasharray="2.6 0.95 1.8 0.95"/>
<path d="M-2.00 79.80C-1.67 80.00 -0.52 80.67 0.00 81.00C0.52 81.33 0.30 81.08 1.10 81.80C1.90 82.52 3.47 84.28 4.80 85.30C6.13 86.32 7.72 87.02 9.10 87.90C10.48 88.78 12.12 89.75 13.10 90.60C14.08 91.45 14.68 92.60 15.00 93.00" stroke="#1a1a1a" stroke-width="1.15" fill="none" stroke-dasharray="2.6 0.95 1.8 0.95"/>
<path d="M7.80 67.40C7.60 65.63 7.90 64.30 8.30 62.40C8.70 60.50 9.35 58.03 10.20 56.00C11.05 53.97 12.10 51.88 13.40 50.20C14.70 48.52 16.65 47.05 18.00 45.90C19.35 44.75 20.33 43.85 21.50 43.30C22.67 42.75 23.75 42.57 25.00 42.60C26.25 42.63 27.58 42.68 29.00 43.50C30.42 44.32 32.08 45.83 33.50 47.50C34.92 49.17 36.50 51.58 37.50 53.50C38.50 55.42 39.03 57.08 39.50 59.00C39.97 60.92 40.22 63.08 40.30 65.00C40.38 66.92 40.38 68.92 40.00 70.50C39.62 72.08 38.83 73.33 38.00 74.50C37.17 75.67 36.33 76.63 35.00 77.50C33.67 78.37 32.00 79.15 30.00 79.70C28.00 80.25 25.17 80.70 23.00 80.80C20.83 80.90 18.75 80.85 17.00 80.30C15.25 79.75 13.75 78.72 12.50 77.50C11.25 76.28 10.28 74.68 9.50 73.00C8.72 71.32 8.00 69.17 7.80 67.40Z" stroke="#1a1a1a" stroke-width="1.15" fill="none" stroke-dasharray="2.6 0.95 1.8 0.95"/>
</g>
<path d="M30.34 0v1.6M30.34 91v-1.6M48.08 0v1.6M48.08 91v-1.6M60.67 0v1.6M60.67 91v-1.6M70.44 0v1.6M70.44 91v-1.6M78.42 0v1.6M78.42 91v-1.6M85.16 0v1.6M85.16 91v-1.6M91.01 0v1.6M91.01 91v-1.6M96.16 0v1.6M96.16 91v-1.6M100.77 0v1.6M100.77 91v-1.6M0 83.32h1.6M130 83.32h-1.6M0 77.54h1.6M130 77.54h-1.6M0 72.82h1.6M130 72.82h-1.6M0 68.83h1.6M130 68.83h-1.6M0 65.38h1.6M130 65.38h-1.6M0 62.33h1.6M130 62.33h-1.6M0 59.60h1.6M130 59.60h-1.6M0 41.66h1.6M130 41.66h-1.6M0 31.16h1.6M130 31.16h-1.6M0 23.72h1.6M130 23.72h-1.6M0 17.94h1.6M130 17.94h-1.6M0 13.22h1.6M130 13.22h-1.6M0 9.23h1.6M130 9.23h-1.6M0 5.78h1.6M130 5.78h-1.6M0 2.73h1.6M130 2.73h-1.6" stroke="#888" stroke-width="0.5" fill="none"/>
<rect x="0.4" y="0.45" width="129.8" height="90.7" fill="none" stroke="#ababab" stroke-width="1"/>
<text x="-3" y="2.70" font-size="8.5" text-anchor="end">10&#8201;000</text>
<text x="-3" y="44.36" font-size="8.5" text-anchor="end">2000</text>
<text x="-3" y="86.02" font-size="8.5" text-anchor="end">400</text>
<text x="0.70" y="100.60" font-size="8.5" text-anchor="middle">10</text>
<text x="31.04" y="100.60" font-size="8.5" text-anchor="middle">20</text>
<text x="61.37" y="100.60" font-size="8.5" text-anchor="middle">40</text>
<text x="101.47" y="100.60" font-size="8.5" text-anchor="middle">100</text>
<text x="130.70" y="100.60" font-size="8.5" text-anchor="middle">195</text>
</g>
<g transform="translate(214.6,163.7)">
<clipPath id="cpd"><rect x="0" y="0" width="130" height="91"/></clipPath>
<g clip-path="url(#cpd)">
<path d="M-2.00 27.50C-1.67 27.18 -1.17 26.77 0.00 25.60C1.17 24.43 3.27 22.27 5.00 20.50C6.73 18.73 7.58 16.65 10.40 15.00C13.22 13.35 18.08 11.60 21.90 10.60C25.72 9.60 29.45 9.33 33.30 9.00C37.15 8.67 41.85 8.55 45.00 8.60C48.15 8.65 49.70 8.77 52.20 9.30C54.70 9.83 57.47 10.78 60.00 11.80C62.53 12.82 64.73 14.00 67.40 15.40C70.07 16.80 73.23 18.60 76.00 20.20C78.77 21.80 81.67 23.62 84.00 25.00C86.33 26.38 88.10 27.42 90.00 28.50C91.90 29.58 93.73 30.17 95.40 31.50C97.07 32.83 98.57 34.73 100.00 36.50C101.43 38.27 102.75 40.27 104.00 42.10C105.25 43.93 106.42 45.70 107.50 47.50C108.58 49.30 109.72 51.07 110.50 52.90C111.28 54.73 111.83 56.68 112.20 58.50C112.57 60.32 112.77 62.13 112.70 63.80C112.63 65.47 112.17 67.25 111.80 68.50C111.43 69.75 111.07 70.47 110.50 71.30C109.93 72.13 108.93 72.42 108.40 73.50C107.87 74.58 108.38 76.18 107.30 77.80C106.22 79.42 103.88 81.57 101.90 83.20C99.92 84.83 97.57 86.33 95.40 87.60C93.23 88.87 90.47 89.90 88.90 90.80C87.33 91.70 86.48 92.63 86.00 93.00L86.00 96L-5 96L-5 27.50Z" fill="#fdefd9"/>
<path d="M-2.00 35.50C-1.67 35.25 -1.12 34.83 0.00 34.00C1.12 33.17 3.35 31.33 4.70 30.50C6.05 29.67 6.20 29.78 8.10 29.00C10.00 28.22 13.23 26.53 16.10 25.80C18.97 25.07 22.43 24.77 25.30 24.60C28.17 24.43 31.02 24.53 33.30 24.80C35.58 25.07 37.10 25.70 39.00 26.20C40.90 26.70 42.50 26.92 44.70 27.80C46.90 28.68 50.15 30.13 52.20 31.50C54.25 32.87 55.48 34.10 57.00 36.00C58.52 37.90 60.05 40.73 61.30 42.90C62.55 45.07 63.48 46.97 64.50 49.00C65.52 51.03 66.40 53.18 67.40 55.10C68.40 57.02 69.73 58.98 70.50 60.50C71.27 62.02 72.00 62.82 72.00 64.20C72.00 65.58 72.02 67.27 70.50 68.80C68.98 70.33 65.32 71.87 62.90 73.40C60.48 74.93 57.78 76.73 56.00 78.00C54.22 79.27 54.37 79.48 52.20 81.00C50.03 82.52 45.37 85.43 43.00 87.10C40.63 88.77 39.17 90.02 38.00 91.00C36.83 91.98 36.33 92.67 36.00 93.00L36.00 96L-5 96L-5 35.50Z" fill="#fcc57b"/>
<path d="M19.60 48.50C17.83 48.92 15.08 49.58 13.40 50.50C11.72 51.42 10.52 52.58 9.50 54.00C8.48 55.42 7.75 57.17 7.30 59.00C6.85 60.83 6.82 62.95 6.80 65.00C6.78 67.05 6.78 69.38 7.20 71.30C7.62 73.22 8.10 75.12 9.30 76.50C10.50 77.88 12.35 78.92 14.40 79.60C16.45 80.28 19.02 80.78 21.60 80.60C24.18 80.42 27.58 79.52 29.90 78.50C32.22 77.48 34.02 76.25 35.50 74.50C36.98 72.75 38.20 70.42 38.80 68.00C39.40 65.58 39.48 62.42 39.10 60.00C38.72 57.58 37.93 55.25 36.50 53.50C35.07 51.75 32.58 50.42 30.50 49.50C28.42 48.58 25.82 48.17 24.00 48.00C22.18 47.83 21.37 48.08 19.60 48.50Z" fill="#fd6a47"/>
<path d="M58.80 4.60C60.05 5.05 63.88 6.20 66.30 7.30C68.72 8.40 71.27 9.92 73.30 11.20C75.33 12.48 76.80 13.57 78.50 15.00C80.20 16.43 81.75 18.37 83.50 19.80C85.25 21.23 87.08 22.15 89.00 23.60C90.92 25.05 93.33 27.02 95.00 28.50C96.67 29.98 97.67 31.08 99.00 32.50C100.33 33.92 101.50 35.37 103.00 37.00C104.50 38.63 106.58 40.55 108.00 42.30C109.42 44.05 110.42 45.70 111.50 47.50C112.58 49.30 113.53 51.27 114.50 53.10C115.47 54.93 116.58 56.65 117.30 58.50C118.02 60.35 118.65 62.37 118.80 64.20C118.95 66.03 118.57 67.92 118.20 69.50C117.83 71.08 117.10 72.37 116.60 73.70C116.10 75.03 115.97 76.28 115.20 77.50C114.43 78.72 113.20 79.87 112.00 81.00C110.80 82.13 109.50 83.25 108.00 84.30C106.50 85.35 104.80 86.37 103.00 87.30C101.20 88.23 98.87 88.95 97.20 89.90C95.53 90.85 93.70 92.48 93.00 93.00" stroke="#1a1a1a" stroke-width="1.15" fill="none" stroke-dasharray="2.6 0.95 1.8 0.95"/>
<path d="M-2.00 26.50C-1.67 26.17 -1.08 25.50 0.00 24.50C1.08 23.50 2.68 21.95 4.50 20.50C6.32 19.05 9.28 16.95 10.90 15.80C12.52 14.65 13.65 13.97 14.20 13.60" stroke="#1a1a1a" stroke-width="1.15" fill="none" stroke-dasharray="2.6 0.95 1.8 0.95"/>
<path d="M25.70 10.20C26.75 10.20 29.75 10.10 32.00 10.20C34.25 10.30 37.12 10.42 39.20 10.80C41.28 11.18 42.85 11.80 44.50 12.50C46.15 13.20 47.68 14.05 49.10 15.00C50.52 15.95 51.60 16.97 53.00 18.20C54.40 19.43 55.83 20.92 57.50 22.40C59.17 23.88 61.17 25.38 63.00 27.10C64.83 28.82 66.65 30.85 68.50 32.70C70.35 34.55 72.77 36.65 74.10 38.20C75.43 39.75 75.55 40.45 76.50 42.00C77.45 43.55 78.75 45.75 79.80 47.50C80.85 49.25 81.93 50.83 82.80 52.50C83.67 54.17 84.42 55.75 85.00 57.50C85.58 59.25 86.10 61.42 86.30 63.00C86.50 64.58 86.33 65.83 86.20 67.00C86.07 68.17 86.20 68.67 85.50 70.00C84.80 71.33 82.73 73.58 82.00 75.00C81.27 76.42 82.05 77.20 81.10 78.50C80.15 79.80 78.28 81.42 76.30 82.80C74.32 84.18 71.40 85.57 69.20 86.80C67.00 88.03 64.47 89.17 63.10 90.20C61.73 91.23 61.35 92.53 61.00 93.00" stroke="#1a1a1a" stroke-width="1.15" fill="none" stroke-dasharray="2.6 0.95 1.8 0.95"/>
<path d="M-2.00 40.00C-1.67 39.60 -0.52 38.27 0.00 37.60C0.52 36.93 0.60 36.77 1.10 36.00C1.60 35.23 2.30 34.00 3.00 33.00C3.70 32.00 4.55 30.90 5.30 30.00C6.05 29.10 6.67 28.37 7.50 27.60C8.33 26.83 9.30 26.07 10.30 25.40C11.30 24.73 12.38 24.20 13.50 23.60C14.62 23.00 15.75 22.50 17.00 21.80C18.25 21.10 19.65 19.90 21.00 19.40C22.35 18.90 23.82 18.87 25.10 18.80C26.38 18.73 27.50 18.88 28.70 19.00C29.90 19.12 31.10 19.20 32.30 19.50C33.50 19.80 34.68 20.15 35.90 20.80C37.12 21.45 38.48 22.60 39.60 23.40C40.72 24.20 41.27 24.53 42.60 25.60C43.93 26.67 45.92 28.23 47.60 29.80C49.28 31.37 51.13 33.13 52.70 35.00C54.27 36.87 55.72 39.02 57.00 41.00C58.28 42.98 59.40 44.82 60.40 46.90C61.40 48.98 62.18 51.32 63.00 53.50C63.82 55.68 64.75 58.08 65.30 60.00C65.85 61.92 66.18 63.25 66.30 65.00C66.42 66.75 66.48 68.70 66.00 70.50C65.52 72.30 64.52 74.28 63.40 75.80C62.28 77.32 60.38 78.37 59.30 79.60C58.22 80.83 58.20 81.88 56.90 83.20C55.60 84.52 53.07 86.33 51.50 87.50C49.93 88.67 48.58 89.28 47.50 90.20C46.42 91.12 45.42 92.53 45.00 93.00" stroke="#1a1a1a" stroke-width="1.15" fill="none" stroke-dasharray="2.6 0.95 1.8 0.95"/>
<path d="M-1.00 58.00C-0.70 57.53 0.38 56.25 0.80 55.20C1.22 54.15 1.08 53.00 1.50 51.70C1.92 50.40 2.53 48.93 3.30 47.40C4.07 45.87 5.05 44.10 6.10 42.50C7.15 40.90 8.48 39.13 9.60 37.80C10.72 36.47 11.57 35.43 12.80 34.50C14.03 33.57 15.63 32.83 17.00 32.20C18.37 31.57 19.67 31.02 21.00 30.70C22.33 30.38 23.67 30.33 25.00 30.30C26.33 30.27 27.83 30.33 29.00 30.50C30.17 30.67 30.92 30.88 32.00 31.30C33.08 31.72 34.33 32.28 35.50 33.00C36.67 33.72 37.85 34.68 39.00 35.60C40.15 36.52 41.32 37.35 42.40 38.50C43.48 39.65 44.57 41.00 45.50 42.50C46.43 44.00 47.17 45.58 48.00 47.50C48.83 49.42 49.73 51.58 50.50 54.00C51.27 56.42 52.22 59.50 52.60 62.00C52.98 64.50 53.15 66.70 52.80 69.00C52.45 71.30 51.38 74.13 50.50 75.80C49.62 77.47 48.55 78.05 47.50 79.00C46.45 79.95 45.40 80.42 44.20 81.50C43.00 82.58 41.67 84.33 40.30 85.50C38.93 86.67 37.27 87.70 36.00 88.50C34.73 89.30 33.87 89.55 32.70 90.30C31.53 91.05 29.62 92.55 29.00 93.00" stroke="#1a1a1a" stroke-width="1.15" fill="none" stroke-dasharray="2.6 0.95 1.8 0.95"/>
<path d="M-2.00 79.80C-1.67 80.00 -0.52 80.67 0.00 81.00C0.52 81.33 0.30 81.08 1.10 81.80C1.90 82.52 3.47 84.28 4.80 85.30C6.13 86.32 7.72 87.02 9.10 87.90C10.48 88.78 12.12 89.75 13.10 90.60C14.08 91.45 14.68 92.60 15.00 93.00" stroke="#1a1a1a" stroke-width="1.15" fill="none" stroke-dasharray="2.6 0.95 1.8 0.95"/>
<path d="M7.80 67.40C7.60 65.63 7.90 64.30 8.30 62.40C8.70 60.50 9.35 58.03 10.20 56.00C11.05 53.97 12.10 51.88 13.40 50.20C14.70 48.52 16.65 47.05 18.00 45.90C19.35 44.75 20.33 43.85 21.50 43.30C22.67 42.75 23.75 42.57 25.00 42.60C26.25 42.63 27.58 42.68 29.00 43.50C30.42 44.32 32.08 45.83 33.50 47.50C34.92 49.17 36.50 51.58 37.50 53.50C38.50 55.42 39.03 57.08 39.50 59.00C39.97 60.92 40.22 63.08 40.30 65.00C40.38 66.92 40.38 68.92 40.00 70.50C39.62 72.08 38.83 73.33 38.00 74.50C37.17 75.67 36.33 76.63 35.00 77.50C33.67 78.37 32.00 79.15 30.00 79.70C28.00 80.25 25.17 80.70 23.00 80.80C20.83 80.90 18.75 80.85 17.00 80.30C15.25 79.75 13.75 78.72 12.50 77.50C11.25 76.28 10.28 74.68 9.50 73.00C8.72 71.32 8.00 69.17 7.80 67.40Z" stroke="#1a1a1a" stroke-width="1.15" fill="none" stroke-dasharray="2.6 0.95 1.8 0.95"/>
</g>
<path d="M30.34 0v1.6M30.34 91v-1.6M48.08 0v1.6M48.08 91v-1.6M60.67 0v1.6M60.67 91v-1.6M70.44 0v1.6M70.44 91v-1.6M78.42 0v1.6M78.42 91v-1.6M85.16 0v1.6M85.16 91v-1.6M91.01 0v1.6M91.01 91v-1.6M96.16 0v1.6M96.16 91v-1.6M100.77 0v1.6M100.77 91v-1.6M0 83.32h1.6M130 83.32h-1.6M0 77.54h1.6M130 77.54h-1.6M0 72.82h1.6M130 72.82h-1.6M0 68.83h1.6M130 68.83h-1.6M0 65.38h1.6M130 65.38h-1.6M0 62.33h1.6M130 62.33h-1.6M0 59.60h1.6M130 59.60h-1.6M0 41.66h1.6M130 41.66h-1.6M0 31.16h1.6M130 31.16h-1.6M0 23.72h1.6M130 23.72h-1.6M0 17.94h1.6M130 17.94h-1.6M0 13.22h1.6M130 13.22h-1.6M0 9.23h1.6M130 9.23h-1.6M0 5.78h1.6M130 5.78h-1.6M0 2.73h1.6M130 2.73h-1.6" stroke="#888" stroke-width="0.5" fill="none"/>
<rect x="0.4" y="0.45" width="129.8" height="90.7" fill="none" stroke="#ababab" stroke-width="1"/>
<text x="-3" y="2.70" font-size="8.5" text-anchor="end">10&#8201;000</text>
<text x="-3" y="44.36" font-size="8.5" text-anchor="end">2000</text>
<text x="-3" y="86.02" font-size="8.5" text-anchor="end">400</text>
<text x="0.70" y="100.60" font-size="8.5" text-anchor="middle">10</text>
<text x="31.04" y="100.60" font-size="8.5" text-anchor="middle">20</text>
<text x="61.37" y="100.60" font-size="8.5" text-anchor="middle">40</text>
<text x="101.47" y="100.60" font-size="8.5" text-anchor="middle">100</text>
<text x="130.70" y="100.60" font-size="8.5" text-anchor="middle">195</text>
</g>
<text x="-0.4" y="31.8" font-size="11.4">(<tspan font-style="italic">a</tspan>)</text>
<text x="187.4" y="31.8" font-size="11.4">(<tspan font-style="italic">b</tspan>)</text>
<text x="-0.4" y="155.1" font-size="11.4">(<tspan font-style="italic">c</tspan>)</text>
<text x="187.4" y="155.1" font-size="11.4">(<tspan font-style="italic">d</tspan>)</text>
<path d="M3.3 82.70C4.3 82.50 4.6 83.80 4.7 85.30L4.9 88.20C5 89.00 5.3 89.50 5.9 89.30" stroke="#111" stroke-width="1.4" fill="none"/><path d="M-0.3 89.30L3.3 85.90" stroke="#111" stroke-width="0.9" fill="none"/>
<text x="6.9" y="85.60" font-size="7.5">+</text>
<text x="6.0" y="91.90" font-size="8.5" font-style="italic">x</text>
<path d="M3.3 203.60C4.3 203.40 4.6 204.70 4.7 206.20L4.9 209.10C5 209.90 5.3 210.40 5.9 210.20" stroke="#111" stroke-width="1.4" fill="none"/><path d="M-0.3 210.20L3.3 206.80" stroke="#111" stroke-width="0.9" fill="none"/>
<text x="6.9" y="206.50" font-size="7.5">+</text>
<text x="6.0" y="212.80" font-size="8.5" font-style="italic">x</text>
<text x="102.9" y="278" font-size="11" font-style="italic">y</text>
<text x="109.3" y="275.6" font-size="8">+</text>
<text x="274.9" y="278" font-size="11" font-style="italic">y</text>
<text x="281.3" y="275.6" font-size="8">+</text>
</svg></body></html>
